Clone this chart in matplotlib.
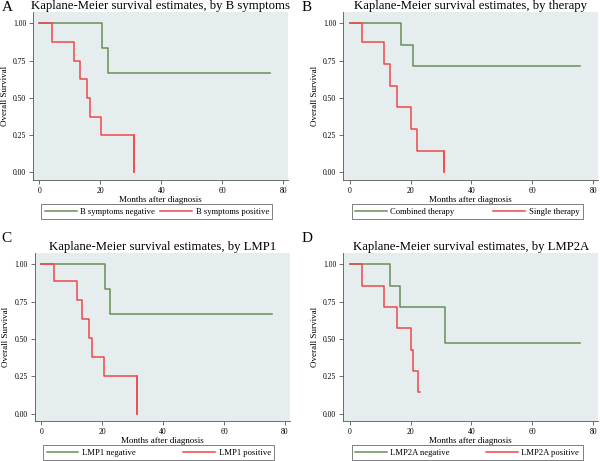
import matplotlib
matplotlib.use("Agg")
import matplotlib.pyplot as plt

plt.rcParams['font.family'] = ['Liberation Serif', 'DejaVu Serif']

GREEN = '#6a8f57'
RED = '#f0484a'
BG = '#e6edef'

# step times (months) and survival values
a_neg_t = [0, 20.7, 22.4, 75.6]
a_neg_s = [1.0, 0.833, 0.667, 0.667]
a_pos_t = [0, 4.0, 11.4, 13.3, 15.5, 16.6, 20.3, 31.2]
a_pos_s = [1.0, 0.875, 0.75, 0.625, 0.5, 0.375, 0.25, 0.0]

b_neg_t = [0, 16.8, 20.8, 75.6]
b_neg_s = [1.0, 0.857, 0.714, 0.714]
b_pos_t = [0, 4.0, 11.4, 13.3, 15.4, 20.2, 22.2, 31.1]
b_pos_s = [1.0, 0.875, 0.729, 0.583, 0.4375, 0.292, 0.146, 0.0]

c_neg_t = [0, 20.8, 22.5, 75.6]
c_neg_s = [1.0, 0.833, 0.667, 0.667]
c_pos_t = [0, 4.1, 11.6, 13.5, 15.7, 16.8, 20.5, 31.3]
c_pos_s = [1.0, 0.889, 0.762, 0.635, 0.508, 0.381, 0.254, 0.0]

d_neg_t = [0, 13.3, 16.6, 31.3, 75.6]
d_neg_s = [1.0, 0.857, 0.714, 0.476, 0.476]
d_pos_t = [0, 4.0, 11.4, 15.5, 20.3, 20.8, 22.3, 23.2]
d_pos_s = [1.0, 0.857, 0.714, 0.571, 0.429, 0.286, 0.143, 0.143]

panels = [
    ('A', 'Kaplane-Meier survival estimates, by B symptoms',
     a_neg_t, a_neg_s, a_pos_t, a_pos_s, 'B symptoms negative', 'B symptoms positive'),
    ('B', 'Kaplane-Meier survival estimates, by therapy',
     b_neg_t, b_neg_s, b_pos_t, b_pos_s, 'Combined therapy', 'Single therapy'),
    ('C', 'Kaplane-Meier survival estimates, by LMP1',
     c_neg_t, c_neg_s, c_pos_t, c_pos_s, 'LMP1 negative', 'LMP1 positive'),
    ('D', 'Kaplane-Meier survival estimates, by LMP2A',
     d_neg_t, d_neg_s, d_pos_t, d_pos_s, 'LMP2A negative', 'LMP2A positive'),
]

# axes boxes in figure fractions
boxes = [
    [0.055, 0.610, 0.425, 0.364],
    [0.572, 0.610, 0.425, 0.364],
    [0.058, 0.087, 0.425, 0.364],
    [0.572, 0.087, 0.425, 0.364],
]
# panel letter positions (figure fractions, top-left)
letter_pos = [(0.003, 0.997), (0.503, 0.997), (0.003, 0.497), (0.503, 0.497)]

fig = plt.figure(figsize=(6, 4.61), dpi=100)

for (letter, title, nt, ns, pt, ps, nlab, plab), box, lp in zip(panels, boxes, letter_pos):
    ax = fig.add_axes(box)
    ax.set_facecolor(BG)
    ax.step(nt, ns, where='post', color=GREEN, lw=1.1, label=nlab)
    ax.step(pt, ps, where='post', color=RED, lw=1.1, label=plab)
    if ps[-1] == 0.0:
        ax.plot([pt[-1], pt[-1]], [ps[-2], 0.0], color=RED, lw=1.1)
    ax.set_xlim(-2.1, 81.6)
    ax.set_ylim(-0.049, 1.076)
    ax.set_xticks([0, 20, 40, 60, 80])
    ax.set_yticks([0, 0.25, 0.5, 0.75, 1.0])
    ax.set_yticklabels(['0.00', '0.25', '0.50', '0.75', '1.00'])
    ax.tick_params(labelsize=5.5, length=3, width=0.6, color='#555555', pad=2)
    for s in ['top', 'right']:
        ax.spines[s].set_visible(False)
    for s in ['left', 'bottom']:
        ax.spines[s].set_color('#555555')
        ax.spines[s].set_linewidth(0.6)
    ax.set_xlabel('Months after diagnosis', fontsize=6.5, labelpad=1)
    ax.set_ylabel('Overall Survival', fontsize=6.5, labelpad=3)
    ax.set_title(title, fontsize=9.2, pad=1.5)
    fig.text(lp[0], lp[1], letter, fontsize=11, va='top', ha='left')
    leg = ax.legend(loc='center', bbox_to_anchor=(0.016, -0.24, 0.94, 0.1),
                    mode='expand', ncol=2, fontsize=6.2, frameon=True,
                    fancybox=False, edgecolor='#444444', handlelength=3.7,
                    handletextpad=0.4, borderpad=0.4, columnspacing=2.4)
    leg.get_frame().set_linewidth(0.6)

fig.savefig('out.png', dpi=100)
